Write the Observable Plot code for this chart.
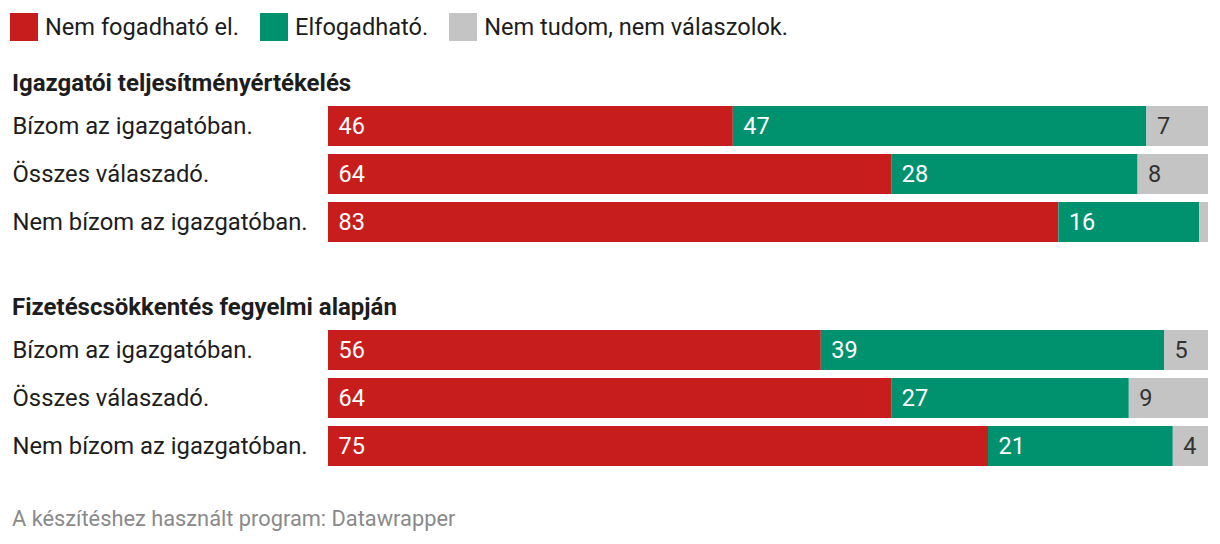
<!DOCTYPE html>
<html>
<head>
<meta charset="utf-8">
<script src="https://cdn.jsdelivr.net/npm/d3@7"></script>
<script src="https://cdn.jsdelivr.net/npm/@observablehq/plot@0.6"></script>
<style>
  html, body { margin: 0; padding: 0; background: #fff; }
  body { width: 1220px; height: 544px; position: relative; font-family: Roboto, "Noto Sans", sans-serif; color: #1d1d1d; overflow: hidden; }
  .legend { position: absolute; left: 10px; top: 13px; display: flex; align-items: center; font-size: 23.6px; line-height: 28px; }
  .legend .item { display: flex; align-items: center; margin-right: 21px; }
  .legend .sw { width: 28px; height: 28px; margin-right: 7px; }
  .heading { position: absolute; left: 12px; font-weight: 700; font-size: 24px; line-height: 28px; }
  .chart { position: absolute; left: 0; }
  .footer { position: absolute; left: 12px; top: 505px; font-size: 21.8px; color: #8a8a8a; line-height: 28px; }
</style>
</head>
<body>
<script>
const categories = ["Nem fogadható el.", "Elfogadható.", "Nem tudom, nem válaszolok."];
const colors = ["#c71e1d", "#00926f", "#c4c4c4"];
const labelColors = ["#ffffff", "#ffffff", "#333333"];
const rows = ["Bízom az igazgatóban.", "Összes válaszadó.", "Nem bízom az igazgatóban."];
const groupTitles = ["Igazgatói teljesítményértékelés", "Fizetéscsökkentés fegyelmi alapján"];
const group1Values = [[46, 47, 7], [64, 28, 8], [83, 16, 1]];
const group2Values = [[56, 39, 5], [64, 27, 9], [75, 21, 4]];
const footerText = "A készítéshez használt program: Datawrapper";

// legend
const legend = document.createElement("div");
legend.className = "legend";
categories.forEach((c, i) => {
  const item = document.createElement("div");
  item.className = "item";
  const sw = document.createElement("div");
  sw.className = "sw";
  sw.style.background = colors[i];
  const t = document.createElement("span");
  t.textContent = c;
  item.appendChild(sw); item.appendChild(t);
  legend.appendChild(item);
});
document.body.appendChild(legend);

function makeChart(values, top) {
  const data = [];
  rows.forEach((r, ri) => {
    categories.forEach((c, ci) => {
      data.push({row: r, cat: c, value: values[ri][ci], ci});
    });
  });
  const chart = Plot.plot({
    width: 1220,
    height: 136,
    marginLeft: 328,
    marginRight: 12,
    marginTop: 0,
    marginBottom: 0,
    style: {fontFamily: "Roboto, 'Noto Sans', sans-serif", background: "transparent"},
    x: {domain: [0, 100], axis: null},
    y: {domain: rows, axis: null, paddingInner: 8 / 48, paddingOuter: 0},
    color: {domain: categories, range: colors},
    marks: [
      Plot.barX(data, {x: "value", y: "row", fill: "cat", order: null}),
      Plot.text(data, Plot.stackX1({
        x: "value", y: "row", order: null,
        filter: d => d.value >= 3,
        text: d => String(d.value),
        textAnchor: "start", dx: 10,
        fill: d => labelColors[d.ci],
        fontSize: 23.5
      })),
      Plot.text(rows, {
        y: d => d, text: d => d, frameAnchor: "left", dx: -316,
        textAnchor: "start", fontSize: 23.8, fill: "#1d1d1d"
      })
    ]
  });
  const wrap = document.createElement("div");
  wrap.className = "chart";
  wrap.style.top = top + "px";
  wrap.appendChild(chart);
  document.body.appendChild(wrap);
}

function makeHeading(text, top) {
  const h = document.createElement("div");
  h.className = "heading";
  h.style.top = top + "px";
  h.textContent = text;
  document.body.appendChild(h);
}

makeHeading(groupTitles[0], 69);
makeChart(group1Values, 106);
makeHeading(groupTitles[1], 293);
makeChart(group2Values, 330);

const footer = document.createElement("div");
footer.className = "footer";
footer.textContent = footerText;
document.body.appendChild(footer);
</script>
</body>
</html>
